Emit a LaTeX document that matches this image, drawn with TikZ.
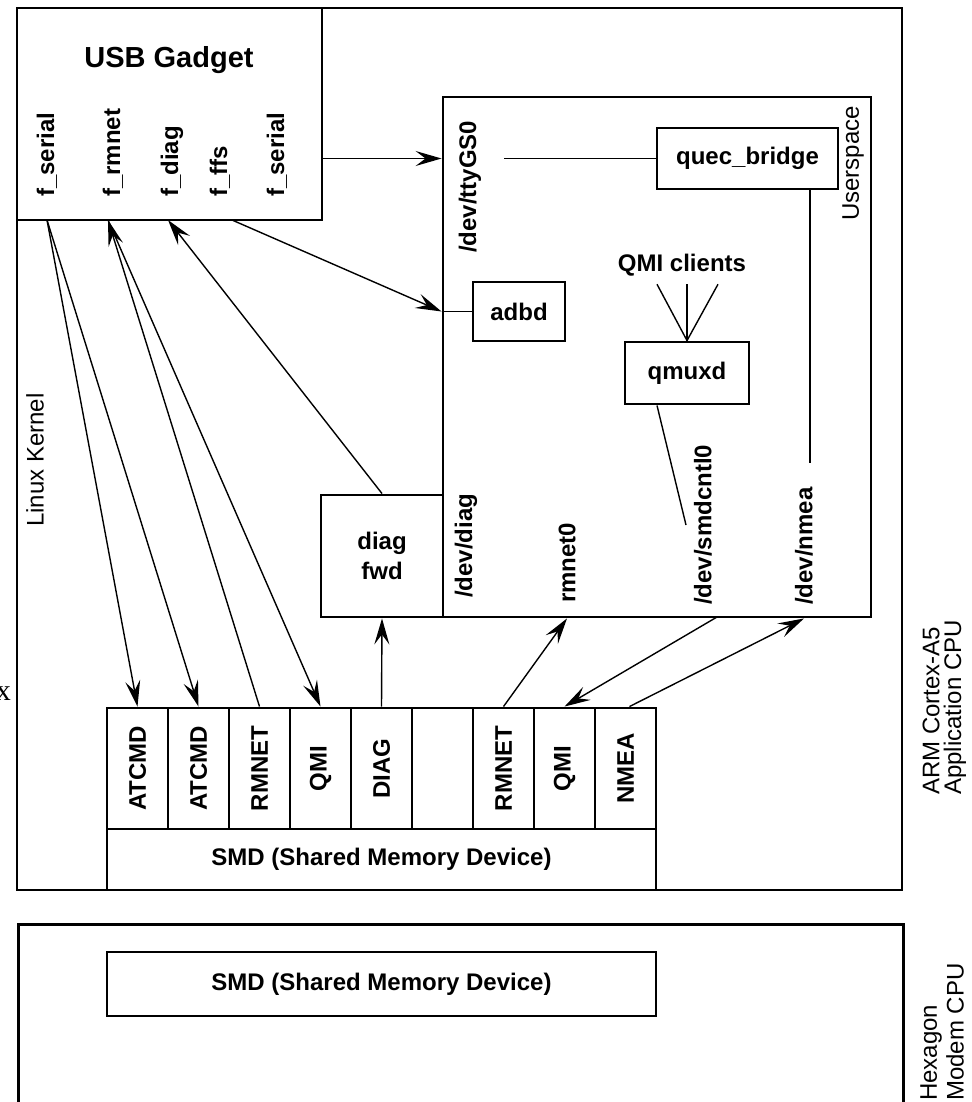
\documentclass[tikz,border=0pt]{standalone}
\usepackage{fontspec}
\setmainfont{Liberation Sans}
\newfontfamily\serifx{Liberation Serif}
\usetikzlibrary{arrows.meta}

\newcommand\lblfont{\fontsize{24}{30}\selectfont\bfseries}
\newcommand\nrmfont{\fontsize{24}{28}\selectfont}

\tikzset{
  blk/.style={draw, line width=2.9pt, fill=white, inner sep=0pt, font=\lblfont, align=center},
  frame/.style={draw, line width=2.5pt, inner sep=0pt},
  lbl/.style={inner sep=0pt, font=\lblfont},
  vlbl/.style={inner sep=0pt, font=\lblfont, rotate=90, anchor=west},
  vnrm/.style={inner sep=0pt, font=\nrmfont, rotate=90, anchor=west},
  wire/.style={line width=1.4pt},
  arr/.style={wire, -{Stealth[length=26pt,width=15pt,inset=10pt]}},
}

\begin{document}
\begin{tikzpicture}[x=1pt,y=-1pt]
\clip (0,0) rectangle (971,1102);
\useasboundingbox (0,0) rectangle (971,1102);

% application cpu
\node[frame, minimum width=885pt, minimum height=882pt] (arm) at (459.5,449) {};
\node[vnrm] (armlbl) at (931,795) {ARM Cortex-A5};
\node[vnrm] (applbl) at (955,795) {Application CPU};
\node[vnrm] (kernel) at (35,527) {Linux Kernel};
\node[inner sep=0pt, font=\serifx\fontsize{30}{30}\selectfont, anchor=base east] (xcut) at (11,700) {x};

% usb gadget
\node[blk, minimum width=305pt, minimum height=212pt] (usb) at (169.5,114) {};
\node[lbl, font=\fontsize{29}{34}\selectfont\bfseries, anchor=base] (usbt) at (169,68) {USB Gadget};
\node[vlbl] (fs1) at (47,197) {f\_serial};
\node[vlbl] (frm) at (113,197) {f\_rmnet};
\node[vlbl] (fdg) at (172,197) {f\_diag};
\node[vlbl] (ffs) at (220,197) {f\_ffs};
\node[vlbl] (fs2) at (277,197) {f\_serial};
\coordinate (pS) at (47,220);
\coordinate (pR) at (108,220);
\coordinate (pD) at (168,220);
\coordinate (pA) at (232,220);

% userspace
\node[blk, minimum width=428pt, minimum height=520pt] (user) at (657,357) {};
\node[vnrm, anchor=east] (ulbl) at (853,106) {Userspace};
\node[vlbl] (tty) at (470,253) {/dev/ttyGS0};
\node[blk, minimum width=181pt, minimum height=61pt] (quec) at (747.5,158.5) {quec\_bridge};
\node[blk, minimum width=92pt, minimum height=59pt] (adbd) at (519,311.5) {adbd};
\node[lbl] (qmic) at (682,265) {QMI clients};
\node[blk, minimum width=124pt, minimum height=62pt] (qmuxd) at (687,373) {qmuxd};
\node[vlbl] (ddiag) at (466,598) {/dev/diag};
\node[vlbl] (rmnet) at (567,603) {rmnet0};
\node[vlbl] (smd0) at (703,605) {/dev/smdcntl0};
\node[vlbl] (nmea) at (804,605) {/dev/nmea};
\coordinate (nmeaTop) at (810,463);
\coordinate (smdEnd) at (686,525);
\coordinate (smdOut) at (717,617);

\node[blk, minimum width=122pt, minimum height=122pt] (dfwd) at (382,556) {diag\\fwd};

% smd channels
\foreach \ch [count=\i] in {ATCMD,ATCMD,RMNET,QMI,DIAG,{},RMNET,QMI,NMEA}{
  \node[blk, minimum width=61pt, minimum height=121pt] (c\i) at (76.5+61*\i,768.5) {};
  \node[lbl, rotate=90] (t\i) at (c\i) {\ch};
}
\node[blk, minimum width=549pt, minimum height=61pt] (smd) at (381.5,859.5) {SMD (Shared Memory Device)};

% modem cpu
\node[frame, minimum width=885pt, minimum height=300pt, anchor=north west] (hex) at (17,923) {};
\node[blk, minimum width=549pt, minimum height=64pt] (hsmd) at (381.5,984) {SMD (Shared Memory Device)};
\node[vnrm] (hexlbl) at (931,1101) {Hexagon};
\node[vnrm] (modlbl) at (955,1101) {Modem CPU};

% connectors
\draw[arr] (usb.east |- quec.west) -- (user.west |- quec.west);
\draw[wire] ([xshift=23pt]tty.south |- quec.west) -- (quec.west);
\draw[arr] (pA) -- (user.west |- adbd.west);
\draw[wire] (user.west |- adbd.west) -- (adbd.west);
\draw[wire] ([xshift=-25pt,yshift=-8pt]qmic.south) -- (qmuxd.north);
\draw[wire] ([yshift=-8pt]qmic.south -| qmuxd.north) -- (qmuxd.north);
\draw[wire] ([xshift=36pt,yshift=-8pt]qmic.south) -- (qmuxd.north);
\draw[wire] (quec.south -| nmeaTop) -- (nmeaTop);
\draw[wire] ([xshift=-30pt]qmuxd.south) -- (smdEnd);

\draw[arr] (pS) -- (c1.north);
\draw[arr] (pS) -- (c2.north);
\draw[arr] (c3.north) -- (pR);
\draw[arr] (pR) -- (c4.north);
\draw[arr] (dfwd.north) -- (pD);
\draw[arr] (c5.north) -- (dfwd.south);
\draw[arr] (c7.north) -- (user.south -| rmnet);
\draw[arr] (smdOut) -- (c8.north);
\draw[arr] ([xshift=4pt]c9.north) -- (user.south -| nmea);
\end{tikzpicture}
\end{document}
